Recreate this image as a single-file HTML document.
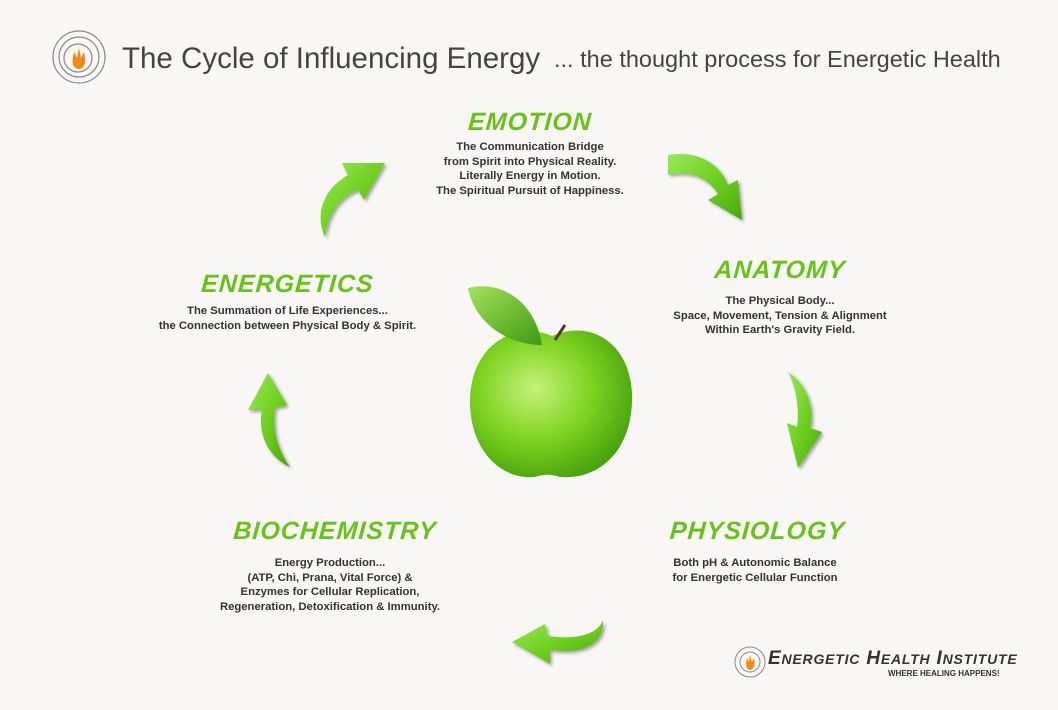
<!DOCTYPE html>
<html><head><meta charset="utf-8"><style>
body{margin:0;width:1058px;height:710px;background:#f8f7f5;position:relative;overflow:hidden;font-family:"Liberation Sans",sans-serif}
.t{position:absolute;text-align:center;color:#333;font-weight:bold;font-size:11.3px;line-height:14.5px;white-space:nowrap}
.h{position:absolute;text-align:center;color:#69c21a;font-style:italic;font-weight:bold;font-size:25px;letter-spacing:1px;white-space:nowrap;transform:skewX(-4deg)}
</style></head><body>
<svg width="1058" height="710" style="position:absolute;left:0;top:0">
<defs>
<linearGradient id="g" x1="0" y1="0" x2="1" y2="1"><stop offset="0" stop-color="#9be85a"/><stop offset=".5" stop-color="#6fd020"/><stop offset="1" stop-color="#4aa80c"/></linearGradient>
<radialGradient id="ap" cx=".4" cy=".4" r=".7"><stop offset="0" stop-color="#c6f27a"/><stop offset=".5" stop-color="#7ed321"/><stop offset="1" stop-color="#3f9a0a"/></radialGradient>
<linearGradient id="lf" x1="0" y1="0" x2="1" y2="1"><stop offset="0" stop-color="#a6e25a"/><stop offset="1" stop-color="#3c9a12"/></linearGradient>
<filter id="s"><feDropShadow dx="2" dy="2" stdDeviation="1.5" flood-color="#000" flood-opacity=".35"/></filter>
</defs>
<g fill="url(#g)" filter="url(#s)">
<path d="M325,237 C315,215 322,190 348,175 L342,163 L385,163 L364,200 L358,190 C338,198 328,215 325,237 Z"/>
<path d="M668,155 C700,150 720,165 728,185 L738,180 L742,220 L708,200 L718,194 C708,178 690,170 668,175 Z"/>
<path d="M788,372 C808,385 815,410 810,428 L822,432 L798,468 L787,423 L797,427 C800,405 795,385 788,372 Z"/>
<path d="M603,620 C605,645 580,655 550,650 L550,664 L512,642 L545,624 L548,636 C575,640 598,635 603,620 Z"/>
<path d="M290,467 C265,455 258,430 262,410 L248,410 L268,373 L287,405 L275,408 C272,430 278,450 290,467 Z"/>
</g>
<path d="M552,336 C592,318 634,345 632,402 C630,454 597,480 560,477 C550,474 545,474 535,477 C498,480 470,447 470,402 C470,345 515,320 552,336 Z" fill="url(#ap)"/>
<path d="M555,340 L565,325" stroke="#5a3a1a" stroke-width="3"/>
<path d="M468,288 C500,280 535,300 542,345 C510,345 475,325 468,288 Z" fill="url(#lf)"/>
<g fill="none" stroke="#888" stroke-width="1.2"><circle cx="79" cy="57" r="26"/><circle cx="79" cy="57" r="20"/><circle cx="78" cy="58" r="14"/></g>
<path d="M79,69 C71,68 72,60 74,52 L77,58 L79,48 L81,58 L84,52 C86,60 86,68 79,69 Z" fill="#f28a12"/>
<g fill="none" stroke="#888" stroke-width="1"><circle cx="750" cy="662" r="15"/><circle cx="750" cy="662" r="10"/></g>
<path d="M750,670 C745,669 746,663 747,658 L749,662 L750,655 L752,662 L754,658 C755,663 755,669 750,670 Z" fill="#f28a12"/>
</svg>
<div style="position:absolute;left:122px;top:42px;font-size:29.5px;color:#444;white-space:nowrap">The Cycle of Influencing Energy</div>
<div style="position:absolute;left:554px;top:46px;font-size:23.5px;color:#444;white-space:nowrap">... the thought process for Energetic Health</div>

<div class="h" style="left:430px;width:200px;top:108px">EMOTION</div>
<div class="t" style="left:400px;width:260px;top:140px">The Communication Bridge<br>from Spirit into Physical Reality.<br>Literally Energy in Motion.<br>The Spiritual Pursuit of Happiness.</div>

<div class="h" style="left:680px;width:200px;top:256px">ANATOMY</div>
<div class="t" style="left:630px;width:300px;top:294px">The Physical Body...<br>Space, Movement, Tension &amp; Alignment<br>Within Earth's Gravity Field.</div>

<div class="h" style="left:180px;width:215px;top:270px">ENERGETICS</div>
<div class="t" style="left:130px;width:315px;top:304px">The Summation of Life Experiences...<br>the Connection between Physical Body &amp; Spirit.</div>

<div class="h" style="left:650px;width:215px;top:517px">PHYSIOLOGY</div>
<div class="t" style="left:630px;width:250px;top:556px">Both pH &amp; Autonomic Balance<br>for Energetic Cellular Function</div>

<div class="h" style="left:225px;width:220px;top:517px">BIOCHEMISTRY</div>
<div class="t" style="left:180px;width:300px;top:556px">Energy Production...<br>(ATP, Chi, Prana, Vital Force) &amp;<br>Enzymes for Cellular Replication,<br>Regeneration, Detoxification &amp; Immunity.</div>

<div style="position:absolute;left:768px;top:648px;font-size:19px;font-style:italic;font-weight:bold;color:#333;white-space:nowrap;letter-spacing:.8px">E<span style="font-size:14px">NERGETIC</span> H<span style="font-size:14px">EALTH</span> I<span style="font-size:14px">NSTITUTE</span></div>
<div style="position:absolute;left:888px;top:669px;font-size:8px;font-weight:bold;color:#333;white-space:nowrap">WHERE HEALING HAPPENS!</div>
</body></html>
